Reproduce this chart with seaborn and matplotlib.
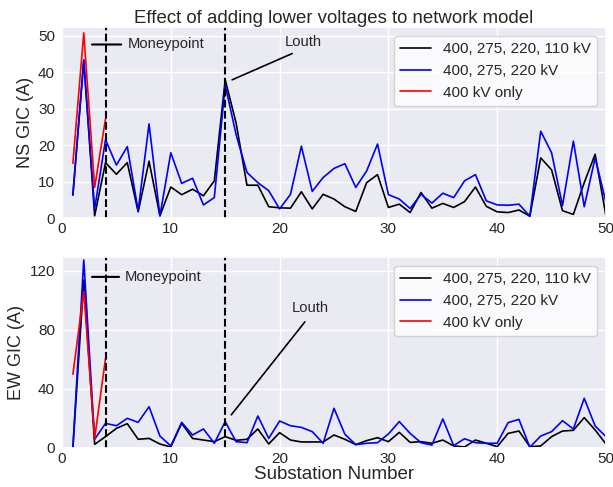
import numpy as np
import pandas as pd
import matplotlib
matplotlib.use("Agg")
import matplotlib.pyplot as plt
from matplotlib.ticker import MultipleLocator
import seaborn as sns

substations = list(range(1, 51))

ns_110 = [6.3, 43.4, 0.6, 15.2, 12.0, 15.2, 1.7, 15.6, 0.6, 8.5,
          6.4, 7.9, 6.1, 10.2, 37.9, 26.1, 9.0, 9.0, 3.1, 2.8,
          2.7, 7.2, 2.5, 6.5, 5.2, 3.1, 1.8, 9.7, 11.9, 2.9,
          3.8, 1.5, 7.0, 2.7, 4.0, 2.9, 4.5, 8.5, 3.2, 1.7,
          1.5, 2.2, 0.5, 16.5, 13.2, 2.0, 1.0, 9.7, 17.5, 0.5]
ns_220 = [6.3, 43.0, 2.5, 21.5, 14.5, 19.6, 2.0, 25.8, 0.6, 17.9,
          9.5, 10.9, 3.6, 5.6, 36.5, 22.9, 12.5, 9.7, 7.5, 2.5,
          6.5, 19.7, 7.3, 11.1, 13.6, 14.9, 8.4, 12.9, 20.3, 6.4,
          5.2, 2.6, 6.5, 4.1, 6.8, 5.6, 10.2, 11.9, 4.7, 3.6,
          3.5, 3.8, 0.5, 23.8, 17.9, 3.4, 21.1, 3.1, 16.5, 4.3]
ns_400_x = [1, 2, 3, 4]
ns_400 = [15.0, 50.8, 8.4, 27.2]

ew_110 = [0.0, 113.9, 2.5, 7.7, 13.3, 16.5, 5.9, 6.5, 2.7, 0.7,
          16.7, 6.5, 5.4, 4.3, 7.7, 5.2, 5.9, 12.9, 2.7, 10.4,
          5.4, 4.1, 4.1, 4.1, 8.8, 5.9, 2.3, 5.0, 7.0, 4.3,
          10.6, 3.8, 4.3, 3.2, 5.4, 1.4, 0.7, 5.4, 3.2, 0.9,
          9.9, 11.5, 0.9, 1.4, 7.7, 11.5, 12.0, 20.6, 12.2, 2.7]
ew_220 = [0.0, 127.5, 5.9, 16.7, 15.1, 20.1, 17.4, 28.0, 8.1, 1.4,
          17.4, 8.8, 12.9, 3.2, 17.9, 4.3, 3.6, 21.7, 6.5, 18.3,
          15.1, 14.0, 11.1, 3.2, 26.9, 9.3, 2.3, 3.2, 3.6, 9.5,
          17.9, 9.9, 3.6, 2.0, 19.7, 1.6, 6.3, 3.6, 3.2, 3.2,
          17.2, 19.4, 0.5, 8.1, 11.1, 18.5, 12.9, 33.7, 14.9, 7.7]
ew_400_x = [1, 2, 3, 4]
ew_400 = [50.0, 106.0, 6.5, 60.8]

labels = ["400, 275, 220, 110 kV", "400, 275, 220 kV", "400 kV only"]
colors = ["black", "blue", "red"]

sns.set_theme(style="darkgrid")
plt.rcParams['font.family'] = ['Liberation Sans', 'DejaVu Sans']

fig, (ax1, ax2) = plt.subplots(2, 1, figsize=(6.13, 4.87), dpi=100)
fig.subplots_adjust(left=62/613, right=606/613, top=1-27/487, bottom=1-448/487, hspace=0.204)

def draw(ax, y110, y220, x400, y400):
    sns.lineplot(x=substations, y=y110, color=colors[0], label=labels[0], ax=ax, lw=1.2)
    sns.lineplot(x=substations, y=y220, color=colors[1], label=labels[1], ax=ax, lw=1.2)
    sns.lineplot(x=x400, y=y400, color=colors[2], label=labels[2], ax=ax, lw=1.2)
    ax.axvline(4, color="black", ls="--", lw=1.5)
    ax.axvline(15, color="black", ls="--", lw=1.5)
    ax.axvline(50, color="grey", ls="--", lw=1.0)
    ax.set_xlim(0, 50)
    ax.legend(loc="upper right", fontsize=11, facecolor="white", framealpha=0.8,
              borderaxespad=0.6)

draw(ax1, ns_110, ns_220, ns_400_x, ns_400)
draw(ax2, ew_110, ew_220, ew_400_x, ew_400)

ax1.set_ylim(0, 52.4)
ax1.yaxis.set_major_locator(MultipleLocator(10))
ax2.set_ylim(0, 129.5)
ax2.yaxis.set_major_locator(MultipleLocator(40))

for ax in (ax1, ax2):
    ax.tick_params(axis="y", labelsize=11, length=0, pad=5)
    ax.tick_params(axis="x", labelsize=11, length=0, pad=3)

ax1.set_ylabel("NS GIC (A)", fontsize=13, labelpad=3)
ax2.set_ylabel("EW GIC (A)", fontsize=13, labelpad=3)
ax2.set_xlabel("Substation Number", fontsize=13.5, labelpad=0)
ax1.set_title("Effect of adding lower voltages to network model", fontsize=13.4, pad=3)

ax1.annotate("Moneypoint", xy=(2.5, 47.6), xytext=(6.0, 47.6), va="center", fontsize=10.6,
             arrowprops=dict(arrowstyle="-", color="black", lw=1.5))
ax1.annotate("Louth", xy=(15.4, 37.6), xytext=(22.2, 48.4), ha="center", va="center", fontsize=10.6,
             arrowprops=dict(arrowstyle="-", color="black", lw=1.2, relpos=(0.5, 0.0), shrinkA=3))
ax2.annotate("Moneypoint", xy=(2.5, 116), xytext=(5.8, 116), va="center", fontsize=10.6,
             arrowprops=dict(arrowstyle="-", color="black", lw=1.5))
ax2.annotate("Louth", xy=(15.4, 21), xytext=(22.8, 94.7), ha="center", va="center", fontsize=10.6,
             arrowprops=dict(arrowstyle="-", color="black", lw=1.2, relpos=(0.5, 0.0), shrinkA=3))

fig.savefig("out.png", dpi=100)
